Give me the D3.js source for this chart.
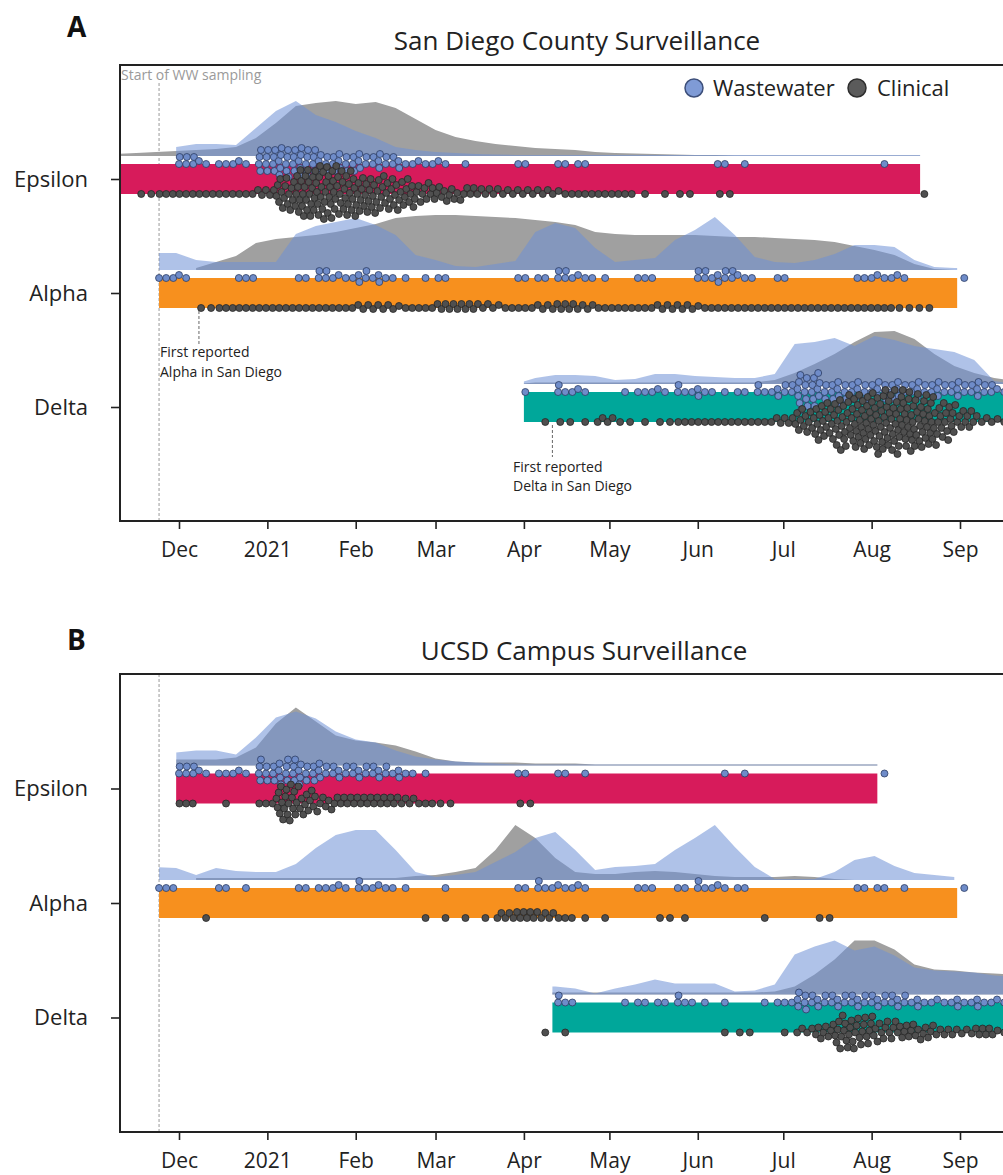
<!DOCTYPE html>
<html><head><meta charset="utf-8">
<script src="https://cdn.jsdelivr.net/npm/d3@7"></script>
<style>body{margin:0;background:#fff;} svg{display:block;font-family:"Open Sans",sans-serif;}</style>
</head><body><svg id="chart" width="1003" height="1175"></svg>
<script>
// ---------------- DATA ----------------
const weeks = ["2020-11-09","2020-11-16","2020-11-23","2020-11-30","2020-12-07","2020-12-14","2020-12-21","2020-12-28",
 "2021-01-04","2021-01-11","2021-01-18","2021-01-25","2021-02-01","2021-02-08","2021-02-15","2021-02-22",
 "2021-03-01","2021-03-08","2021-03-15","2021-03-22","2021-03-29","2021-04-05","2021-04-12","2021-04-19",
 "2021-04-26","2021-05-03","2021-05-10","2021-05-17","2021-05-24","2021-05-31","2021-06-07","2021-06-14",
 "2021-06-21","2021-06-28","2021-07-05","2021-07-12","2021-07-19","2021-07-26","2021-08-02","2021-08-09",
 "2021-08-16","2021-08-23","2021-08-30","2021-09-06","2021-09-13","2021-09-20"];
const variants = ["Epsilon","Alpha","Delta"];
const monthTicks = ["2020-12-01","2021-01-01","2021-02-01","2021-03-01","2021-04-01","2021-05-01","2021-06-01","2021-07-01","2021-08-01","2021-09-01"];
const monthLabels = ["Dec","2021","Feb","Mar","Apr","May","Jun","Jul","Aug","Sep"];
const wwStart = "2020-11-24";
const alphaFirst = "2020-12-08";
const deltaFirst = "2021-04-11";
// wastewater sampling days within a week (days after week start)
const wwSampleDays = [1, 3.5, 6];

// detection windows (bars)
const sdBarStart = ["2020-11-01","2020-11-24","2021-04-01"];
const sdBarEnd   = ["2021-08-18","2021-08-31","2021-10-15"];
const ucBarStart = ["2020-11-30","2020-11-24","2021-04-11"];
const ucBarEnd   = ["2021-08-03","2021-08-31","2021-10-15"];

// relative prevalence (weekly), San Diego County
const sdEpsilonClinArea = [2,3,4,5,6,7,9,18,33,50, 53,55,52,54,48,37,26,19,15,12, 10,8,7,6,4,3,2.5,2,1.5,1, 1,0.5,0.5,0.5,0.5,0.5,0.5,0.5,0.5,0.5, 0.5,0.5,null,null,null,null];
const sdEpsilonWWArea   = [null,null,null,9,12,12,11,28,45,55, 41,34,25,18,9,6,4,3,2,1.5, 1,1,1,1,1,1,1,1,1,1, 1,1,1,1,1,1,1,1,1,1, 1,1,null,null,null,null];
const sdAlphaClinArea   = [null,null,null,null,2,8,14,27,31,33, 35,38,42,46,52,54,55,55,54,53, 52,50,48,45,38,36,35,35,35,35, 34,33,33,32,31,30,28,24,20,15, 6,1,0,null,null,null];
const sdAlphaWWArea     = [null,null,17,17,10,8,8,8,8,36, 44,48,52,45,35,15,10,4,3,6, 9,38,47,42,22,8,10,12,30,40, 53,35,13,8,7,10,16,25,25,23, 10,3,2,2,null,null];
const sdDeltaClinArea   = [null,null,null,null,null,null,null,null,null,null, null,null,null,null,null,null,null,null,null,null, 0,1.5,1.5,1.5,1.5,1.5,1.5,1.5,1.5,1.5, 1.5,1.5,1.5,4,11,20,30,42,52,53, 45,30,18,11,6,3];
const sdDeltaWWArea     = [null,null,null,null,null,null,null,null,null,null, null,null,null,null,null,null,null,null,null,null, 0,6,9,9,8,4,5,10,10,8, 7,6,6,10,40,42,46,38,48,44, 38,35,32,24,3,0];

// relative prevalence (weekly), UCSD campus
const ucEpsilonClinArea = [null,null,null,6,6,6,8,18,42,58, 44,30,25,23,20,14,7,4,3,3, 3,2,2,2,1,1,1,1,1,1, 1,1,1,1,1,1,1,1,1,1, null,null,null,null,null,null];
const ucEpsilonWWArea   = [null,null,null,13,15,15,11,28,48,54, 47,34,26,23,15,9,6,4,3,2, 1,1,1,1,1,1,1,1,1,1, 1,1,1,1,1,1,1,1,1,1, null,null,null,null,null,null];
const ucAlphaClinArea   = [null,null,null,null,2,2,2,2,2,2, 2,2,2,2,2,4,5,8,12,30, 55,42,22,8,6,6,8,9,8,6, 4,3,3,3,4,3,1,0,0,0, 0,0,0,null,null,null];
const ucAlphaWWArea     = [null,null,13,12,5,12,9,8,8,16, 32,45,50,50,30,8,3,5,8,18, 28,42,48,30,10,13,14,16,30,42, 55,33,13,1,1,1,8,20,24,14, 7,5,3,null,null,null];
const ucDeltaClinArea   = [null,null,null,null,null,null,null,null,null,null, null,null,null,null,null,null,null,null,null,null, null,2,2,2,2,2,2,2,2,2, 2,2,2,3,8,20,35,54,54,45, 30,25,24,22,21,20];
const ucDeltaWWArea     = [null,null,null,null,null,null,null,null,null,null, null,null,null,null,null,null,null,null,null,null, null,8,8,6,1,6,10,15,11,11, 11,3,4,10,40,48,54,44,48,39, 27,24,23,22,19,18];

// sequenced samples per week (dots), San Diego County
const sdEpsilonWWDots   = [0,0,0,6,2,3,2,12,14,14, 10,9,7,7,4,3,2,1,0,0, 2,0,2,2,0,0,0,0,0,0, 2,1,0,0,0,0,0,0,1,0, 0,0,0,0,0,0];
const sdEpsilonClinDots = [0,2,3,3,3,3,3,5,16,24, 26,22,18,16,14,10,8,6,5,4, 4,4,3,3,3,3,1,1,2,0, 2,0,0,0,0,0,0,0,0,0, 1,0,0,0,0,0];
const sdAlphaWWDots     = [0,0,3,2,0,0,3,0,0,2, 5,3,5,4,1,1,2,0,0,0, 2,2,5,3,1,0,3,0,0,5, 6,3,0,2,0,0,0,3,3,2, 0,0,1,0,0,0];
const sdAlphaClinDots   = [0,0,0,0,2,3,3,3,3,3, 3,3,4,4,3,3,5,5,4,3, 3,4,5,4,3,3,3,4,4,3, 3,3,3,3,3,3,3,3,3,2, 2,0,0,0,0,0];
const sdDeltaWWDots     = [0,0,0,0,0,0,0,0,0,0, 0,0,0,0,0,0,0,0,0,0, 1,0,4,2,0,1,3,2,4,4, 1,2,4,6,16,10,10,8,9,7, 7,7,7,7,3,0];
const sdDeltaClinDots   = [0,0,0,0,0,0,0,0,0,0, 0,0,0,0,0,0,0,0,0,0, 0,1,2,1,4,2,1,2,3,3, 3,3,3,5,12,18,24,28,30,30, 26,18,10,4,3,0];

// sequenced samples per week (dots), UCSD campus
const ucEpsilonWWDots   = [0,0,0,6,2,3,2,10,12,10, 7,6,6,5,4,1,0,0,0,0, 2,0,2,1,0,0,0,0,0,0, 1,1,0,0,0,0,0,0,1,0, 0,0,0,0,0,0];
const ucEpsilonClinDots = [0,0,0,3,0,1,0,3,18,12, 7,6,6,6,5,3,2,0,0,0, 2,0,0,0,0,0,0,0,0,0, 0,0,0,0,0,0,0,0,0,0, 0,0,0,0,0,0];
const ucAlphaWWDots     = [0,0,3,0,0,2,1,0,0,2, 3,2,4,3,1,0,1,0,0,0, 2,4,3,2,0,0,3,0,2,4, 2,2,0,0,0,0,0,2,2,1, 0,0,1,0,0,0];
const ucAlphaClinDots   = [0,0,0,0,1,0,0,0,0,0, 0,0,0,0,0,1,1,1,1,5, 6,5,3,1,1,0,0,2,1,0, 0,0,1,0,0,2,0,0,0,0, 0,0,0,0,0,0];
const ucDeltaWWDots     = [0,0,0,0,0,0,0,0,0,0, 0,0,0,0,0,0,0,0,0,0, 0,0,4,0,0,1,2,2,4,1, 1,0,1,3,8,6,6,6,6,5, 4,3,4,4,2,0];
const ucDeltaClinDots   = [0,0,0,0,0,0,0,0,0,0, 0,0,0,0,0,0,0,0,0,0, 0,1,1,0,0,0,0,0,0,0, 1,2,0,1,4,8,16,14,10,9, 8,5,4,6,3,0];

// ---------------- TABLES ----------------
const panelData = {
  sd: {barStart: sdBarStart, barEnd: sdBarEnd,
       clinArea: [sdEpsilonClinArea, sdAlphaClinArea, sdDeltaClinArea],
       wwArea: [sdEpsilonWWArea, sdAlphaWWArea, sdDeltaWWArea],
       wwDots: [sdEpsilonWWDots, sdAlphaWWDots, sdDeltaWWDots],
       clinDots: [sdEpsilonClinDots, sdAlphaClinDots, sdDeltaClinDots]},
  uc: {barStart: ucBarStart, barEnd: ucBarEnd,
       clinArea: [ucEpsilonClinArea, ucAlphaClinArea, ucDeltaClinArea],
       wwArea: [ucEpsilonWWArea, ucAlphaWWArea, ucDeltaWWArea],
       wwDots: [ucEpsilonWWDots, ucAlphaWWDots, ucDeltaWWDots],
       clinDots: [ucEpsilonClinDots, ucAlphaClinDots, ucDeltaClinDots]}
};

// ---------------- STYLE / LAYOUT ----------------
const barColor = {Epsilon:"#d71b5b", Alpha:"#f7901e", Delta:"#00a79a"};
const wwFill = "#6f8cc9", wwStroke = "#2c3c62";
const clinFill = "#4f4f4f", clinStroke = "#262626";
const plotLeft = 120, plotRight = 1003;
const panels = [
  {key:"sd", letter:"A", title:"San Diego County Surveillance", titleX:577, titleY:50, letterY:37, top:65, bottom:521, legend:true},
  {key:"uc", letter:"B", title:"UCSD Campus Surveillance", titleX:584, titleY:660, letterY:650, top:674, bottom:1132, legend:false}
];

const parse = d3.timeParse("%Y-%m-%d");
const weekDates = weeks.map(parse);
const x = d3.scaleTime().domain([parse("2020-12-01"), parse("2021-09-01")]).range([179, 960]);
const dens = d3.scaleLinear().domain([0, 60]).range([0, 60]);
const R = 3.5, D = 6.3;
const DAY = 86400000;
const svg = d3.select("#chart");
const defs = svg.append("defs");

function swarm(xs) {
  const pts = xs.slice().sort((a,b)=>a-b).map(v=>({x:v, y:0}));
  const placed = [];
  for (const p of pts) {
    for (let k = 0; k < 400; k++) {
      const off = k === 0 ? 0 : (k % 2 === 1 ? -Math.ceil(k/2) : Math.ceil(k/2));
      let ok = true;
      for (let j = placed.length - 1; j >= 0; j--) {
        const q = placed[j];
        const dx = p.x - q.x;
        if (dx >= D) break;
        const dy = q.y - off;
        if (dx*dx + dy*dy < D*D) { ok = false; break; }
      }
      if (ok) { p.y = off; break; }
    }
    placed.push(p);
  }
  return pts;
}
// clinical: spread evenly over the week
function clinXs(counts) {
  const xs = [];
  counts.forEach((n, i) => {
    for (let k = 0; k < n; k++) xs.push(x(new Date(weekDates[i].getTime() + (k + 0.5) * 7 / n * DAY)));
  });
  return xs;
}
// wastewater: grouped on sampling days
function wwXs(counts) {
  const xs = [];
  counts.forEach((n, i) => {
    for (let k = 0; k < n; k++) {
      const day = n === 1 ? 3.5 : wwSampleDays[k % 3] + Math.floor(k / 3) * 0.25;
      xs.push(x(new Date(weekDates[i].getTime() + day * DAY)));
    }
  });
  return xs;
}

panels.forEach((P, pi) => {
  const data = panelData[P.key];
  const y = d3.scalePoint().domain(variants).range([P.top, P.bottom]).padding(1);

  svg.append("text").attr("x", 67).attr("y", P.letterY).attr("font-size", 28).attr("font-weight", 700)
    .attr("fill", "#111").text(P.letter);
  svg.append("text").attr("x", P.titleX).attr("y", P.titleY).attr("text-anchor", "middle")
    .attr("font-size", 26).attr("fill", "#222").text(P.title);

  const clipId = "plotclip" + pi;
  defs.append("clipPath").attr("id", clipId).append("rect")
    .attr("x", plotLeft).attr("y", P.top).attr("width", plotRight - plotLeft).attr("height", P.bottom - P.top);
  const g = svg.append("g").attr("clip-path", `url(#${clipId})`);

  g.append("line").attr("x1", x(parse(wwStart))).attr("x2", x(parse(wwStart)))
    .attr("y1", P.legend ? P.top + 18 : P.top).attr("y2", P.bottom)
    .attr("stroke", "#9a9a9a").attr("stroke-width", 1).attr("stroke-dasharray", "3,2");

  // density areas
  variants.forEach((v, vi) => {
    const cy = y(v);
    const base = cy - 23;
    const x0 = x(parse(data.barStart[vi])), x1 = x(parse(data.barEnd[vi]));
    const cid = `rowclip${pi}_${vi}`;
    defs.append("clipPath").attr("id", cid).append("rect")
      .attr("x", x0).attr("y", P.top).attr("width", x1 - x0).attr("height", P.bottom - P.top);
    const rg = g.append("g").attr("clip-path", `url(#${cid})`);
    const area = d3.area().defined(d => d.v != null)
      .x(d => x(d.date)).y0(base).y1(d => base - dens(d.v));
    const clin = weekDates.map((d, i) => ({date: d, v: data.clinArea[vi][i]}));
    const ww = weekDates.map((d, i) => ({date: d, v: data.wwArea[vi][i]}));
    rg.append("path").attr("d", area(clin)).attr("fill", "#a0a0a0");
    rg.append("path").attr("d", area(ww)).attr("fill", "#6d8fd6").attr("fill-opacity", 0.55);
  });
  // bars
  variants.forEach((v, vi) => {
    const cy = y(v);
    const x0 = x(parse(data.barStart[vi])), x1 = x(parse(data.barEnd[vi]));
    g.append("rect").attr("x", x0).attr("y", cy - 15).attr("width", x1 - x0).attr("height", 30)
      .attr("fill", barColor[v]);
  });
  // dots
  variants.forEach((v, vi) => {
    const cy = y(v);
    const wwPts = swarm(wwXs(data.wwDots[vi]));
    g.append("g").selectAll("circle").data(wwPts).join("circle")
      .attr("cx", d => d.x).attr("cy", d => cy - 15 + d.y).attr("r", R)
      .attr("fill", wwFill).attr("stroke", wwStroke).attr("stroke-width", 0.8);
    const clPts = swarm(clinXs(data.clinDots[vi]));
    g.append("g").selectAll("circle").data(clPts).join("circle")
      .attr("cx", d => d.x).attr("cy", d => cy + 15 + d.y).attr("r", R)
      .attr("fill", clinFill).attr("stroke", clinStroke).attr("stroke-width", 0.8);
  });

  // frame
  svg.append("path").attr("d", `M${plotRight},${P.top}H${plotLeft}V${P.bottom}H${plotRight}`)
    .attr("fill", "none").attr("stroke", "#222").attr("stroke-width", 2);

  // axes
  const xAxis = d3.axisBottom(x).tickValues(monthTicks.map(parse))
    .tickFormat((d, i) => monthLabels[i]).tickSize(8).tickPadding(13);
  const gx = svg.append("g").attr("transform", `translate(0,${P.bottom})`).call(xAxis);
  gx.select(".domain").remove();
  gx.selectAll(".tick line").attr("stroke", "#222").attr("stroke-width", 1.6);
  gx.selectAll(".tick text").attr("font-size", 21).attr("fill", "#222").attr("font-family", "Open Sans");

  const yAxis = d3.axisLeft(y).tickSize(9).tickPadding(23);
  const gy = svg.append("g").attr("transform", `translate(${plotLeft},0)`).call(yAxis);
  gy.select(".domain").remove();
  gy.selectAll(".tick line").attr("stroke", "#222").attr("stroke-width", 1.6);
  gy.selectAll(".tick text").attr("font-size", 22).attr("fill", "#222").attr("font-family", "Open Sans");

  if (P.legend) {
    svg.append("text").attr("x", 121).attr("y", 80).attr("font-size", 14).attr("fill", "#9a9a9a")
      .text("Start of WW sampling");
    svg.append("circle").attr("cx", 694).attr("cy", 88).attr("r", 9).attr("fill", "#7f9bd6")
      .attr("stroke", "#3d4f7a").attr("stroke-width", 1.5);
    svg.append("text").attr("x", 713).attr("y", 96).attr("font-size", 22).attr("fill", "#222").text("Wastewater");
    svg.append("circle").attr("cx", 857).attr("cy", 88).attr("r", 9).attr("fill", "#5b5b5b")
      .attr("stroke", "#2e2e2e").attr("stroke-width", 1.5);
    svg.append("text").attr("x", 877).attr("y", 96).attr("font-size", 22).attr("fill", "#222").text("Clinical");

    const ax = x(parse(alphaFirst));
    svg.append("line").attr("x1", ax).attr("x2", ax).attr("y1", y("Alpha") + 18).attr("y2", 345)
      .attr("stroke", "#666").attr("stroke-dasharray", "3,2");
    svg.append("text").attr("x", 160).attr("y", 357).attr("font-size", 14).attr("fill", "#222").text("First reported");
    svg.append("text").attr("x", 160).attr("y", 377).attr("font-size", 14).attr("fill", "#222").text("Alpha in San Diego");
    const dx = x(parse(deltaFirst));
    svg.append("line").attr("x1", dx).attr("x2", dx).attr("y1", y("Delta") + 18).attr("y2", 457)
      .attr("stroke", "#666").attr("stroke-dasharray", "3,2");
    svg.append("text").attr("x", 513).attr("y", 472).attr("font-size", 14).attr("fill", "#222").text("First reported");
    svg.append("text").attr("x", 513).attr("y", 491).attr("font-size", 14).attr("fill", "#222").text("Delta in San Diego");
  }
});
</script>
</body></html>
